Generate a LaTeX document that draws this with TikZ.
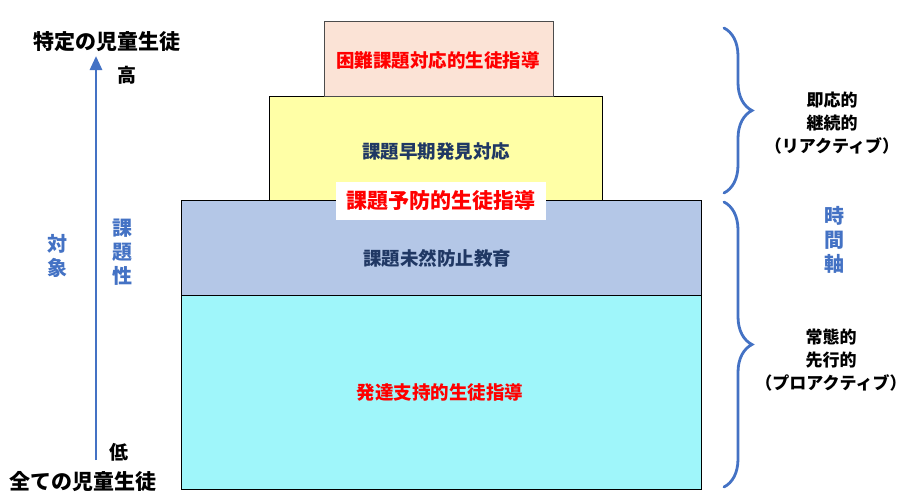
\documentclass[tikz,border=0pt]{standalone}
\usepackage{fontspec}
\setmainfont{Noto Sans CJK JP}
\usetikzlibrary{positioning, arrows.meta, decorations.pathreplacing}
\definecolor{axisblue}{HTML}{4472C4}
\definecolor{navytext}{HTML}{203864}
\definecolor{peachfill}{HTML}{FBE3D6}
\definecolor{yellowfill}{HTML}{FFFFA6}
\definecolor{bluefill}{HTML}{B4C7E7}
\definecolor{cyanfill}{HTML}{9FF6FA}

\begin{document}
\begin{tikzpicture}[
    x=1pt, y=-1pt,
    every node/.style={font=\bfseries\fontsize{21}{25}\selectfont},
    layer/.style={draw, line width=0.9pt, anchor=north west, inner sep=0pt},
    boxtext/.style={font=\bfseries\fontsize{18.5}{22}\selectfont},
    sidetext/.style={align=center, inner sep=0pt, font=\bfseries\fontsize{17}{23}\selectfont},
    vtext/.style={align=center, text=axisblue, font=\bfseries\fontsize{20}{24}\selectfont},
    brace/.style={draw=axisblue, line width=2.8pt, line cap=round,
                  decorate, decoration={brace, amplitude=28pt}},
    axisarrow/.style={draw=axisblue, line width=2.8pt,
                      -{Triangle[length=14pt, width=12pt]}}
  ]
    \useasboundingbox (0,0) rectangle (906,501);

    % layers, bottom to top
    \node[layer, fill=cyanfill, minimum width=520pt, minimum height=194pt] (supp) at (181,295) {};
    \node[layer, fill=bluefill, minimum width=520pt, minimum height=95pt] (prev) at (181,200) {};
    \node[layer, fill=yellowfill, minimum width=333pt, minimum height=104pt] (early) at (269,96) {};
    \node[layer, draw=black!70, fill=peachfill, minimum width=229pt, minimum height=75pt] (hard) at (324,21) {};

    \node[boxtext, text=red] (hardtext) at (438,61) {困難課題対応的生徒指導};
    \node[boxtext, text=navytext] (earlytext) at (436,152) {課題早期発見対応};
    \node[boxtext, text=navytext] (prevtext) at (437,258) {課題未然防止教育};
    \node[boxtext, text=red] (supptext) at (440,392) {発達支持的生徒指導};
    \node[fill=white, text=red, inner sep=0pt, minimum width=210pt, minimum height=38pt] (prevlabel) at (441,201) {課題予防的生徒指導};

    % left axis
    \coordinate (lo) at (96,460);
    \coordinate (hi) at (96,56);
    \draw[axisarrow] (lo) -- (hi);
    \node (few) at (107,42) {特定の児童生徒};
    \node (all) at (83,482) {全ての児童生徒};
    \node[font=\bfseries\fontsize{19}{23}\selectfont] (high) at (127,75) {高};
    \node[font=\bfseries\fontsize{19}{23}\selectfont] (low) at (119,452) {低};
    \node[vtext] (target) at (57,256) {対\\象};
    \node[vtext] (issue) at (122,252) {課\\題\\性};

    % right braces
    \coordinate (b1top) at (724,28);
    \coordinate (b1bot) at (724,193);
    \coordinate (b2top) at (724,202);
    \coordinate (b2bot) at (724,487);
    \draw[brace] (b1top) -- (b1bot);
    \draw[brace] (b2top) -- (b2bot);
    \node[sidetext] (reactive) at (832,123) {即応的\\継続的\\（リアクティブ）};
    \node[vtext] (timeaxis) at (834,240) {時\\間\\軸};
    \node[sidetext] (proactive) at (831,360) {常態的\\先行的\\（プロアクティブ）};
\end{tikzpicture}
\end{document}
